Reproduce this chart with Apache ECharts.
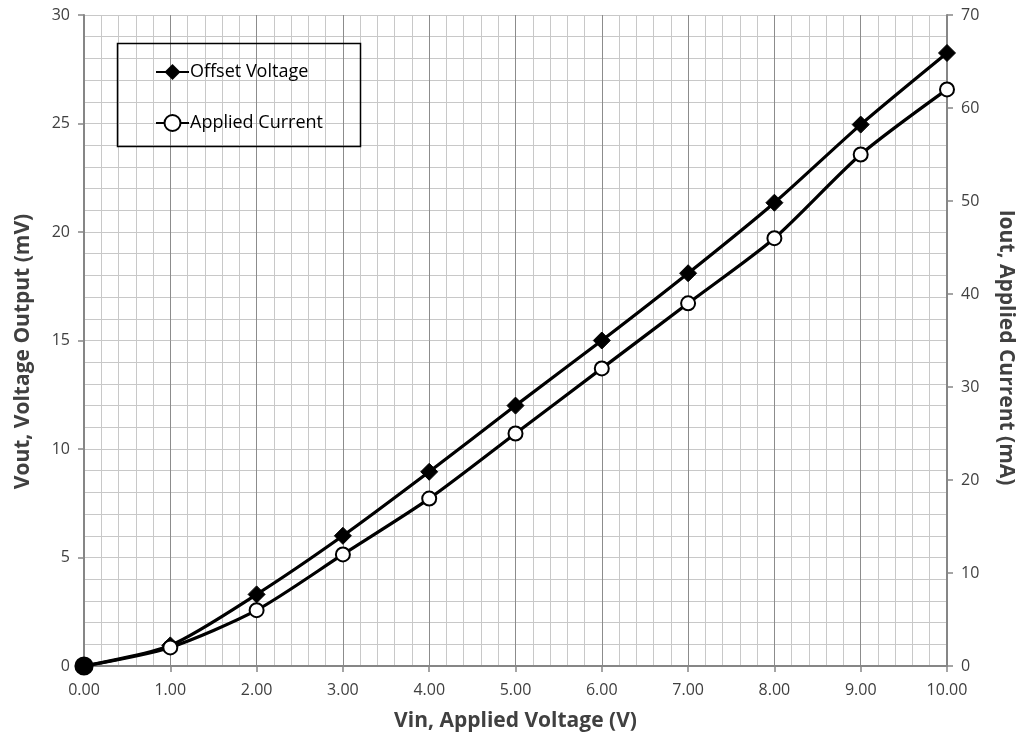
<!DOCTYPE html>
<html><head><meta charset="utf-8">
<script src="https://cdn.jsdelivr.net/npm/echarts@6/dist/echarts.min.js"></script>
<style>html,body{margin:0;padding:0;background:#fff}#c{width:1018px;height:736px}</style>
</head><body><div id="c"></div>
<script>
const vin = [0, 1, 2, 3, 4, 5, 6, 7, 8, 9, 10];
const offsetVoltage = [0, 0.95, 3.3, 6.0, 8.95, 12.0, 15.0, 18.1, 21.35, 24.95, 28.25];
const appliedCurrent = [0, 2, 6, 12, 18, 25, 32, 39, 46, 55, 62];
const seriesNames = ['Offset Voltage', 'Applied Current'];
const axisNames = ['Vin, Applied Voltage (V)', 'Vout, Voltage Output (mV)', 'Iout, Applied Current (mA)'];

const FONT = '"Open Sans", sans-serif';
const chart = echarts.init(document.getElementById('c'), null, {renderer: 'canvas'});
const lab = {color: '#404040', fontSize: 16, fontFamily: FONT};
const nameStyle = {color: '#404040', fontSize: 21, fontWeight: 'bold', fontFamily: FONT};
const axisLineStyle = {lineStyle: {color: '#868686', width: 2}};

chart.setOption({
  animation: false,
  backgroundColor: '#fff',
  grid: {left: 84, right: 71, top: 15, bottom: 70, containLabel: false, outerBoundsMode: 'none'},
  legend: {
    orient: 'vertical', left: 150, top: 57, itemGap: 31,
    itemWidth: 33, itemHeight: 20,
    data: seriesNames,
    textStyle: {color: '#000', fontSize: 18, fontFamily: FONT, lineHeight: 20, padding: [0, 0, 0, -4]}
  },
  graphic: [{
    type: 'rect', left: 115, top: 41, z: 5, silent: true,
    shape: {width: 243, height: 103},
    style: {fill: 'none', stroke: '#000', lineWidth: 1.5}
  }],
  xAxis: {
    type: 'value', min: 0, max: 10, interval: 1,
    name: axisNames[0], nameLocation: 'middle', nameGap: 45, nameTextStyle: nameStyle,
    axisLine: axisLineStyle,
    axisTick: {show: true, length: 6, lineStyle: {color: '#868686', width: 1.5}},
    axisLabel: Object.assign({margin: 16, formatter: v => v.toFixed(2)}, lab),
    splitLine: {show: true, lineStyle: {color: '#8c8c8c', width: 1}},
    minorTick: {show: false, splitNumber: 5},
    minorSplitLine: {show: true, lineStyle: {color: '#c8c8c8', width: 1}}
  },
  yAxis: [{
    type: 'value', min: 0, max: 30, interval: 5, position: 'left',
    name: axisNames[1], nameLocation: 'middle', nameGap: 50, nameRotate: 90,
    nameTextStyle: Object.assign({padding: [0, 22, 0, 0]}, nameStyle),
    axisLine: Object.assign({show: true}, axisLineStyle),
    axisTick: {show: true, length: 6, lineStyle: {color: '#868686', width: 1.5}},
    axisLabel: Object.assign({margin: 14}, lab),
    splitLine: {show: true, lineStyle: {color: '#c8c8c8', width: 1}},
    minorTick: {show: false, splitNumber: 5},
    minorSplitLine: {show: true, lineStyle: {color: '#c8c8c8', width: 1}}
  }, {
    type: 'value', min: 0, max: 70, interval: 10, position: 'right',
    name: axisNames[2], nameLocation: 'middle', nameGap: 48, nameRotate: -90,
    nameTextStyle: Object.assign({padding: [0, 0, 0, 14]}, nameStyle),
    axisLine: Object.assign({show: true}, axisLineStyle),
    axisTick: {show: true, length: 6, lineStyle: {color: '#868686', width: 1.5}},
    axisLabel: Object.assign({margin: 14}, lab),
    splitLine: {show: false}
  }],
  series: [{
    name: seriesNames[0], type: 'line', yAxisIndex: 0, smooth: 0.25,
    data: vin.map((x, i) => [x, offsetVoltage[i]]),
    symbol: 'diamond', symbolSize: 17,
    lineStyle: {color: '#000', width: 3.2},
    itemStyle: {color: '#000', borderColor: '#000'},
    z: 3
  }, {
    name: seriesNames[1], type: 'line', yAxisIndex: 1, smooth: 0.25,
    data: vin.map((x, i) => i === 0 ? {value: [x, appliedCurrent[i]], symbol: 'circle', symbolSize: 16} : [x, appliedCurrent[i]]),
    symbol: 'emptyCircle', symbolSize: 14,
    lineStyle: {color: '#000', width: 3.2},
    itemStyle: {color: '#000', borderColor: '#000', borderWidth: 3.2},
    z: 4
  }]
});
</script></body></html>
